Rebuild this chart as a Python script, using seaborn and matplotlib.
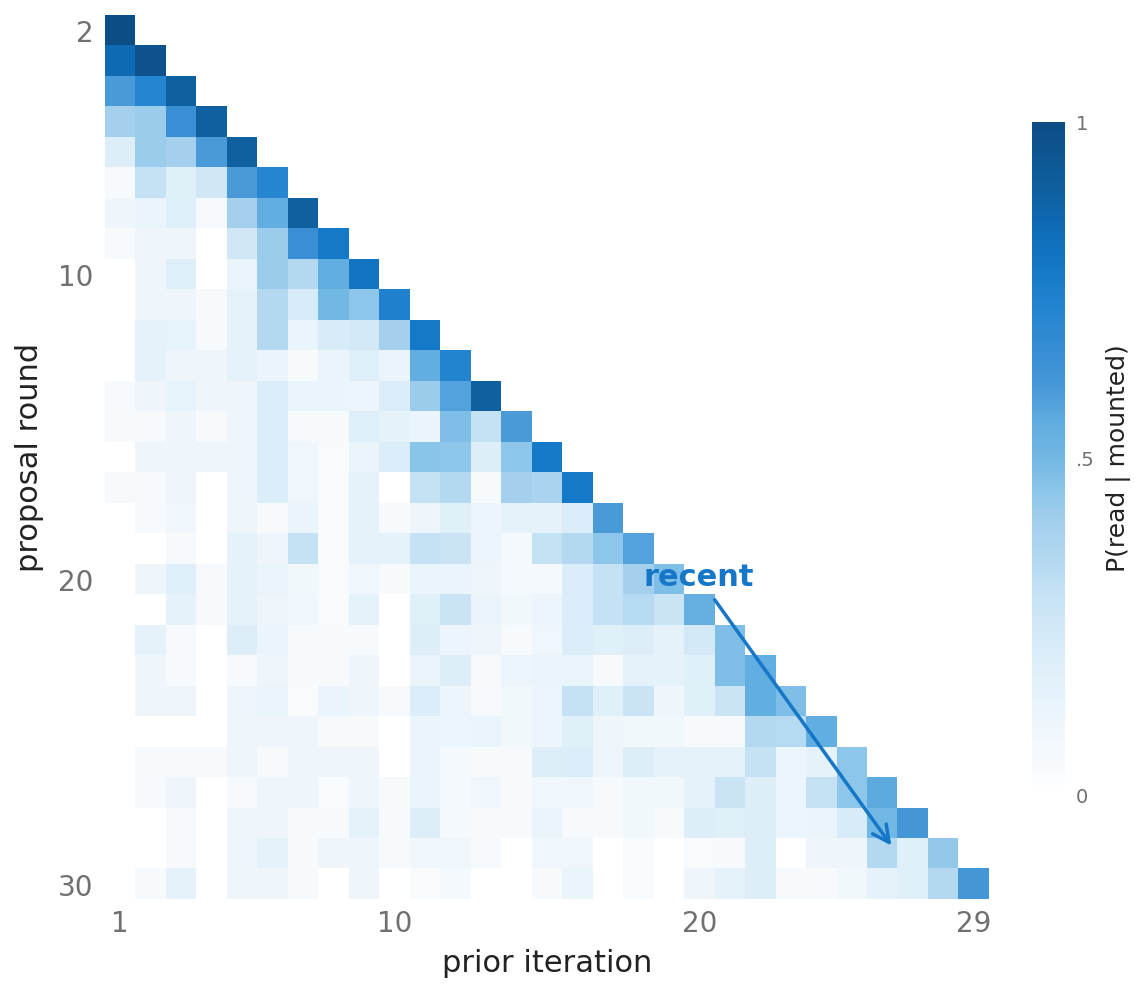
import numpy as np
import pandas as pd
import matplotlib.pyplot as plt
from matplotlib.colors import LinearSegmentedColormap
from matplotlib.transforms import ScaledTranslation
import seaborn as sns

# rows: proposal round 2..30, columns: prior iteration 1..29
proposal_rounds = list(range(2, 31))
prior_iterations = list(range(1, 30))

# P(read | mounted) per proposal round, for prior iterations 1..round-1
read_prob = [
    [1.0],
    [0.85, 0.97],
    [0.6, 0.72, 0.9],
    [0.4, 0.42, 0.65, 0.9],
    [0.2, 0.42, 0.4, 0.6, 0.9],
    [0.05, 0.3, 0.18, 0.25, 0.6, 0.72],
    [0.1, 0.13, 0.19, 0.05, 0.4, 0.55, 0.9],
    [0.05, 0.1, 0.1, 0, 0.25, 0.42, 0.65, 0.78],
    [0, 0.1, 0.19, 0, 0.13, 0.42, 0.35, 0.55, 0.8],
    [0, 0.1, 0.1, 0.05, 0.15, 0.35, 0.22, 0.5, 0.45, 0.74],
    [0, 0.15, 0.14, 0.05, 0.15, 0.35, 0.13, 0.22, 0.24, 0.4, 0.78],
    [0, 0.15, 0.1, 0.1, 0.15, 0.13, 0.05, 0.13, 0.19, 0.13, 0.55, 0.73],
    [0.05, 0.1, 0.14, 0.1, 0.1, 0.21, 0.13, 0.13, 0.12, 0.21, 0.42, 0.58, 0.9],
    [0.05, 0.05, 0.1, 0.05, 0.1, 0.21, 0.05, 0.05, 0.19, 0.15, 0.13, 0.48, 0.3, 0.6],
    [0, 0.1, 0.1, 0.1, 0.1, 0.21, 0.09, 0.04, 0.13, 0.21, 0.46, 0.45, 0.2, 0.45, 0.77],
    [0.05, 0.05, 0.1, 0, 0.1, 0.21, 0.09, 0.04, 0.15, 0, 0.3, 0.35, 0.05, 0.4, 0.38, 0.78],
    [0, 0.05, 0.09, 0, 0.1, 0.05, 0.13, 0.04, 0.15, 0.05, 0.1, 0.18, 0.12, 0.15, 0.15, 0.21, 0.6],
    [0, 0, 0.05, 0, 0.15, 0.1, 0.3, 0.04, 0.15, 0.15, 0.3, 0.28, 0.12, 0.07, 0.3, 0.35, 0.45, 0.58],
    [0, 0.1, 0.19, 0.05, 0.15, 0.13, 0.08, 0.04, 0.09, 0.05, 0.13, 0.13, 0.1, 0.07, 0.07, 0.21, 0.3, 0.4, 0.48],
    [0, 0, 0.15, 0.05, 0.15, 0.1, 0.09, 0.04, 0.15, 0, 0.18, 0.28, 0.13, 0.08, 0.12, 0.21, 0.3, 0.34, 0.28, 0.54],
    [0, 0.15, 0.05, 0, 0.2, 0.13, 0.05, 0.05, 0.05, 0, 0.2, 0.12, 0.1, 0.05, 0.09, 0.21, 0.18, 0.2, 0.15, 0.24, 0.48],
    [0, 0.1, 0.05, 0, 0.05, 0.1, 0.05, 0.05, 0.1, 0, 0.13, 0.2, 0.05, 0.12, 0.13, 0.13, 0.05, 0.15, 0.15, 0.18, 0.48, 0.55],
    [0, 0.1, 0.1, 0, 0.1, 0.13, 0.04, 0.13, 0.1, 0.05, 0.21, 0.12, 0.05, 0.08, 0.12, 0.3, 0.18, 0.28, 0.1, 0.18, 0.28, 0.55, 0.48],
    [0, 0, 0, 0, 0.1, 0.1, 0.1, 0.05, 0.05, 0, 0.13, 0.12, 0.13, 0.08, 0.12, 0.18, 0.1, 0.08, 0.08, 0.05, 0.05, 0.35, 0.34, 0.55],
    [0, 0.05, 0.05, 0.05, 0.1, 0.05, 0.1, 0.1, 0.1, 0, 0.13, 0.07, 0.05, 0.05, 0.2, 0.21, 0.1, 0.2, 0.15, 0.15, 0.15, 0.3, 0.12, 0.15, 0.45],
    [0, 0.05, 0.1, 0, 0.05, 0.1, 0.1, 0.04, 0.1, 0.05, 0.13, 0.07, 0.09, 0.05, 0.09, 0.09, 0.05, 0.08, 0.08, 0.15, 0.28, 0.2, 0.12, 0.3, 0.45, 0.56],
    [0, 0, 0.05, 0, 0.1, 0.1, 0.05, 0.05, 0.15, 0.05, 0.2, 0.07, 0.05, 0.05, 0.13, 0.05, 0.05, 0.08, 0.05, 0.2, 0.18, 0.2, 0.12, 0.13, 0.22, 0.5, 0.62],
    [0, 0, 0.05, 0, 0.1, 0.15, 0.05, 0.1, 0.1, 0.05, 0.09, 0.09, 0.05, 0, 0.09, 0.09, 0, 0.04, 0, 0.04, 0.05, 0.2, 0, 0.1, 0.1, 0.35, 0.18, 0.44],
    [0, 0.05, 0.15, 0, 0.1, 0.1, 0.05, 0, 0.1, 0, 0.04, 0.07, 0, 0, 0.05, 0.13, 0, 0.04, 0, 0.1, 0.15, 0.2, 0.05, 0.05, 0.08, 0.15, 0.18, 0.35, 0.62],
]

x_tick_labels = ['1', '10', '20', '29']
y_tick_labels = ['2', '10', '20', '30']
cbar_ticks = [0, 0.5, 1]
cbar_tick_labels = ['0', '.5', '1']

# white -> light blue -> strong blue -> navy
cmap_stops = [0, 0.05, 0.1, 0.15, 0.2, 0.25, 0.3, 0.35, 0.4, 0.45, 0.5,
              0.55, 0.6, 0.65, 0.72, 0.78, 0.85, 0.9, 1.0]
cmap_colors = ['#ffffff', '#f6fafd', '#eef6fc', '#e5f2fa', '#ddeef9', '#d1e7f6',
               '#c5e2f4', '#b3d8f0', '#a4d0ee', '#8ec6ea', '#72b8e4', '#62aee0',
               '#4a9ad8', '#3a8fd4', '#2585d0', '#1479c8', '#0f6ab4', '#0f60a0',
               '#0c4d85']
cmap = LinearSegmentedColormap.from_list('reads', list(zip(cmap_stops, cmap_colors)))

accent = '#1677c8'
tick_grey = '#707070'
label_col = '#222222'

# lower-triangular matrix, NaN above the diagonal
mat = np.full((len(proposal_rounds), len(prior_iterations)), np.nan)
for i, row in enumerate(read_prob):
    mat[i, :len(row)] = row
df = pd.DataFrame(mat, index=proposal_rounds, columns=prior_iterations)

sns.set_theme(style='white')
plt.rcParams['font.family'] = ['DejaVu Sans']

fig = plt.figure(figsize=(11.47, 9.94), dpi=100)
ax = fig.add_axes([0.0915, 0.0956, 0.7707, 0.8893])
cax = fig.add_axes([0.8997, 0.2002, 0.0288, 0.677])

sns.heatmap(df, ax=ax, cbar_ax=cax, cmap=cmap, vmin=0, vmax=1,
            linewidths=0, cbar_kws={'ticks': cbar_ticks})

ax.set_xticks([prior_iterations.index(int(t)) + 0.5 for t in x_tick_labels])
ax.set_xticklabels(x_tick_labels, rotation=0)
ax.set_yticks([proposal_rounds.index(int(t)) + 0.5 for t in y_tick_labels])
ax.set_yticklabels(y_tick_labels, rotation=0)
ax.tick_params(length=0, labelsize=20, labelcolor=tick_grey, pad=8)
# nudge y labels down a touch
shift = ScaledTranslation(0, -0.04, fig.dpi_scale_trans)
for lbl in ax.get_yticklabels():
    lbl.set_transform(lbl.get_transform() + shift)

ax.set_xlabel('prior iteration', fontsize=22, color=label_col, labelpad=8)
ax.set_ylabel('proposal round', fontsize=22, color=label_col, labelpad=10)
for s in ax.spines.values():
    s.set_visible(False)

cbar = ax.collections[0].colorbar
cbar.outline.set_visible(False)
cbar.set_ticklabels(cbar_tick_labels)
cax.tick_params(length=0, labelsize=14, labelcolor=tick_grey, pad=8)
cbar.set_label('P(read | mounted)', fontsize=18, color=label_col, labelpad=8)

# annotation pointing along the diagonal
ax.text(19.48, 18.72, 'recent', color=accent, fontsize=22, fontweight='bold',
        ha='center', va='baseline')
ax.annotate('', xy=(25.8, 27.25), xytext=(20.0, 19.18),
            arrowprops=dict(arrowstyle='->,head_length=0.6,head_width=0.3',
                            color=accent, lw=2.5, shrinkA=0, shrinkB=0,
                            mutation_scale=20))

fig.savefig('out.png', dpi=100)
plt.close(fig)
